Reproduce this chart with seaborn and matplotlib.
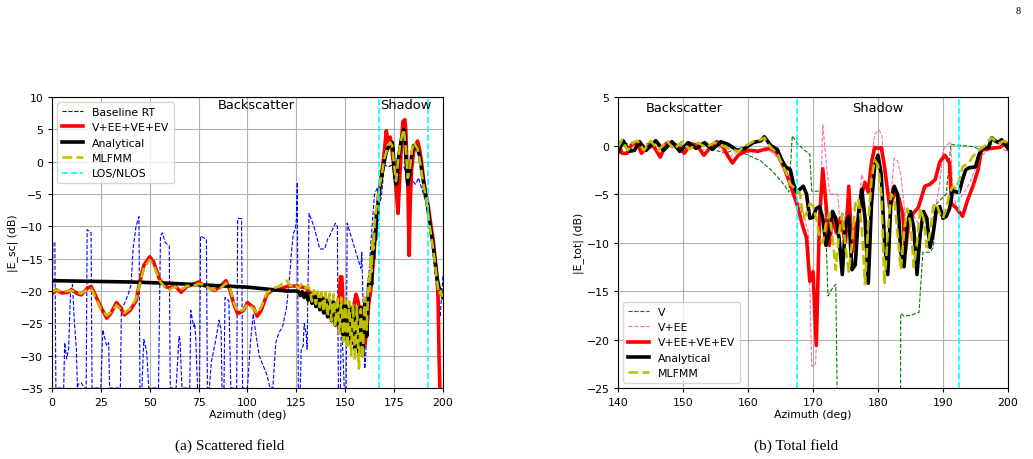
import seaborn as sns
import matplotlib.pyplot as plt
import pandas as pd

plt.switch_backend('agg')

# ---------------- (a) scattered field, (azimuth deg, dB) ----------------
baseline_rt = [(0, -35), (0.5, -12.5), (1.5, -12.5), (2, -35), (6, -35), (6.5, -28), (7.5, -30.5),
               (8.5, -29), (9.5, -20), (10.5, -19), (11.5, -25), (12.5, -29), (13, -35), (13.5, -34.4),
               (15, -34.2), (16.5, -35), (17.5, -35), (18, -10.5), (20, -11), (20.5, -35), (25, -35),
               (26, -26), (28, -28.5), (29, -28), (29.5, -35), (35, -35), (35.5, -23), (37, -22),
               (39, -20.5), (40.5, -19), (41.5, -13.5), (43, -10), (44.5, -8.5), (45, -35), (46, -35),
               (47, -27.5), (48.5, -29.5), (49.5, -35), (54.5, -35), (55.5, -11.5), (56.5, -11),
               (58, -12.5), (60, -13), (60.5, -35), (63.5, -35), (65, -27), (65.5, -27.5), (66.5, -35),
               (70.5, -35), (71, -23), (72.5, -25.5), (73, -25), (73.5, -27), (74.5, -35), (75.5, -35),
               (76, -11.5), (79, -12), (79.5, -35), (80.5, -35), (81.5, -31), (83.5, -28), (85.5, -24.5),
               (86.5, -26), (87, -35), (88, -35), (88.5, -21), (90.5, -21.5), (91.5, -35), (94.5, -35),
               (95, -8.8), (97, -8.8), (97.5, -35), (100, -35), (101.5, -28), (103, -23.5), (104, -26),
               (106, -30), (108, -31.5), (110, -33), (111.5, -35), (113, -35), (114.5, -28), (116, -26.5),
               (118, -25.5), (120, -22.5), (121.5, -18), (122.5, -14), (123.5, -11), (124.5, -10.5),
               (125, -9), (125.5, -3.2), (126, -35), (127, -35), (127.5, -29), (128.5, -28.5), (129, -25),
               (130, -26.5), (130.5, -29), (131.5, -8), (134, -10), (137, -13.5), (139.5, -13.5),
               (141, -12), (142, -11.5), (145, -9.5), (146, -10), (146.5, -35), (147.5, -35), (148, -25),
               (148.5, -27), (149.5, -35), (150.5, -35), (151, -9.5), (153.5, -12), (156, -14.5),
               (158, -16.5), (158.5, -14), (159, -20), (160, -32), (160.5, -30), (161.5, -21), (163, -13),
               (165, -5), (166.5, -4), (167.5, -6.5), (168.5, -5.5), (170, -0.5), (172, -0.8), (174, -0.5),
               (176, -1), (178, -1.2), (180, -0.8), (182, -2.2), (184, -2.8), (186, -3.5), (187.5, -2.5),
               (189, -4), (191, -6), (192.5, -8), (194, -11), (195.5, -16), (197, -20), (198.5, -24),
               (199.5, -20), (200, -17.5)]

rt_full_sc = [(0, -20.5), (2, -19.8), (5, -20.3), (8, -20.2), (10, -19.8), (13, -20.4), (15, -20.6),
              (18, -19.6), (20, -19.3), (22, -20.5), (25, -22.5), (28, -24.2), (30, -23.5), (33, -21.8),
              (35, -22.5), (37, -23.7), (40, -23), (43, -21.5), (45, -18.5), (47, -16), (50, -14.7),
              (52, -15.5), (55, -18.2), (58, -19.3), (60, -19.5), (63, -19.2), (66, -20.2), (69, -19.3),
              (72, -19.0), (75, -18.6), (78, -19.2), (80, -19.4), (83, -19.9), (86, -19.3), (89, -18.4),
              (91, -19.8), (93, -22), (95, -23.5), (98, -23), (100, -21.8), (103, -22.5), (105, -23.9),
              (107, -23), (110, -20.5), (113, -19.8), (116, -19.8), (120, -19.3), (123, -19.2),
              (126, -19.3), (130, -19.5), (132, -20.3), (135, -20.8), (138, -21.0), (141, -21.5),
              (143, -22.5), (145, -24.3), (146, -24.8), (147, -21), (147.5, -17.8), (148.3, -17.8),
              (149, -23), (150, -25), (152, -25.5), (154, -23), (155.5, -20.5), (156.5, -21.5),
              (158, -24), (159, -26), (160, -28.5), (161, -26), (162, -22), (163, -20), (164, -17),
              (165, -13), (166, -9), (167, -6), (168, -3), (169, -1), (170, 1.5), (171, 4.8), (172, 3),
              (173, 3.8), (174, 1.5), (175, -1), (176, -4), (177, -8), (178, -2), (179, 4), (179.5, 6.2),
              (180.5, 6.5), (181, 5), (181.5, 0), (182, -3), (182.7, -14.5), (183.3, -6), (184, -1),
              (185, 1.5), (186, 2.5), (187, 3.2), (188, 2), (189, 0), (190, -2.5), (191, -4.5), (192, -6),
              (193, -8), (194, -10.2), (195, -12), (196, -15), (197, -18), (197.5, -21), (198, -30),
              (198.5, -36), (200, -36)]

analytical_sc = [(0, -18.4), (20, -18.5), (40, -18.6), (60, -18.8), (80, -19.1), (100, -19.4),
                 (110, -19.7), (120, -20.0), (126, -20.0), (127, -20.7), (128, -20.1), (129, -21.0),
                 (130, -20.3), (131, -21.4), (132, -20.5), (133, -21.9), (134, -20.7), (135, -22.4),
                 (136, -20.9), (137, -22.9), (138, -21.1), (139, -23.4), (140, -21.3), (141, -24.0),
                 (142, -21.5), (143, -24.6), (144, -21.7), (145, -25.3), (146, -21.9), (147, -26.0),
                 (148, -22.0), (149, -26.8), (150, -22.2), (151, -27.5), (152, -22.4), (153, -28.2),
                 (154, -22.5), (155, -28.9), (156, -22.6), (157, -29.5), (158, -22.5), (159, -30.0),
                 (160, -22.0), (161, -27.0), (162, -19.0), (163, -17.5), (163.5, -19), (164, -14),
                 (164.5, -15), (165, -11), (165.5, -12), (166, -8), (166.5, -9), (167, -5.5), (168, -3.5),
                 (169, -1.5), (170, 0), (171, 1.5), (172, 2.2), (173, 2.8), (174, 3), (174.5, 2),
                 (175, -1), (176, -3.5), (176.5, -3), (177, 0), (178, 2), (179, 4), (180, 5), (180.5, 4),
                 (181, 1), (181.5, -2), (182, -3.5), (183, -2), (184, 1), (185, 2.5), (186, 2.5), (187, 2),
                 (188, 1), (189, -1), (190, -3), (191, -5), (192, -6.5), (193, -9), (194, -11), (195, -13),
                 (196, -15.5), (197, -18), (198, -19.5), (199, -20), (200, -21)]

mlfmm_sc = [(0, -20.2), (2, -19.8), (5, -20.1), (8, -20.0), (10, -19.9), (13, -20.3), (15, -20.4),
            (18, -19.8), (20, -19.6), (22, -20.8), (25, -22.8), (28, -23.8), (30, -23.3), (33, -22.2),
            (35, -22.8), (37, -23.4), (40, -22.7), (43, -21.2), (45, -18.8), (47, -16.4), (50, -15.2),
            (52, -16.0), (55, -18.4), (58, -19.5), (60, -19.8), (63, -19.3), (66, -19.8), (69, -19.2),
            (72, -19.2), (75, -18.9), (78, -19.0), (80, -19.5), (83, -19.8), (86, -19.6), (89, -18.8),
            (91, -19.5), (93, -21.8), (95, -23.2), (98, -22.9), (100, -22.0), (103, -22.7), (105, -23.5),
            (107, -22.5), (110, -20.3), (113, -19.6), (116, -19.3), (118, -18.8), (120, -18.4),
            (122, -19.2), (124, -18.9), (126, -19.6), (128, -18.8), (130, -19.6), (131, -19.2),
            (132, -20.0), (133, -21.6), (134, -19.9), (135, -22.0), (136, -20.1), (137, -22.5),
            (138, -20.2), (139, -23.2), (140, -20.2), (141, -23.9), (142, -20.4), (143, -24.6),
            (144, -20.5), (145, -25.5), (146, -20.8), (147, -26.6), (148, -21.0), (149, -27.8),
            (150, -21.3), (151, -28.9), (152, -21.6), (153, -29.9), (154, -22.0), (155, -30.8),
            (156, -22.4), (157, -32.0), (158, -22.8), (159, -30.5), (160, -21.0), (161, -26.0),
            (162, -18.0), (162.5, -20), (163, -15), (163.5, -17), (164, -12), (164.5, -13.5),
            (165, -9.5), (166, -7), (167, -5), (168, -3), (169, -1.5), (170, 0.5), (171, 1.5),
            (172, 2.5), (173, 3), (174, 2.5), (175, -0.5), (176, -3), (177, 0), (178, 2.5), (179, 4),
            (180, 5), (181, 2), (182, -2.5), (183, -1.5), (184, 1.5), (185, 3), (186, 2.5), (187, 2),
            (188, 0.5), (189, -1.5), (190, -3.5), (191, -5), (192, -7), (193, -9.5), (194, -11.5),
            (195, -13.5), (196, -16), (197, -18.5), (198, -20.5), (199, -20), (200, -21.5)]

# ---------------- (b) total field ----------------
v_tot = [(140, 0), (141.5, 0.2), (143, -0.2), (145, 0.3), (147, -0.3), (149, 0.2), (151, -0.2), (153, 0.3),
         (155, -0.5), (156.5, -0.8), (158, -0.4), (160, -1), (162, -1.6), (163.5, -2.5), (164.5, -3.2),
         (165.5, -4), (166.3, -4.8), (166.8, 1), (167.5, 0.3), (168.5, -0.4), (169.5, -0.9),
         (169.8, -4.7), (171, -4.7), (171.8, -5), (172.3, -15.5), (173, -14.7), (173.5, -14.3),
         (174, -40), (183.4, -40), (183.5, -17.3), (184, -17.6), (185, -17.5), (186.3, -17.2),
         (186.9, -11), (188, -11), (188.5, -10.5), (189, -6), (190.5, -5), (191.2, 0.1), (194.5, -0.1),
         (196.5, -0.6), (197.8, 0.4), (199, 0.3), (200, -0.3)]

v_ee_tot = [(140, 0.2), (141.5, -0.3), (143, 0.2), (145, -0.3), (147, 0.1), (149, -0.2), (151, 0.1),
            (153, -0.5), (155, 0.1), (157, -1.2), (158.5, -0.6), (160, -0.5), (162, -0.5), (163.5, -0.6),
            (164.5, -1.2), (165.5, -2.5), (166.5, -3.5), (167.5, -5.5), (168.5, -7), (169.3, -9),
            (169.8, -22.8), (170.4, -22.5), (170.8, -14), (171.5, 2.2), (172.2, -3), (172.6, -5),
            (173.8, -5), (174.3, -9), (175, -7), (176, -6.5), (177, -6), (177.5, -3), (178.3, -4.5),
            (179, -1.5), (179.5, 1.2), (180.2, 1.6), (180.6, 1), (181.3, -4.5), (182, -5), (182.5, -1.3),
            (183, -1.6), (183.5, -3), (184, -6), (184.6, -9.5), (185.2, -7), (186.2, -8), (187.5, -7.5),
            (188.5, -7.5), (189.5, -4), (190, -0.5), (190.5, 0), (191.2, 0.4), (191.5, -5.2), (192, -6),
            (192.8, -5.3), (194, -4), (195, -2.3), (196, -1), (197, -0.5), (198.5, -0.2), (199.5, -0.5),
            (200, -0.5)]

rt_full_tot = [(140, 0.3), (140.6, -0.8), (141.4, -0.8), (142.2, 0.2), (143, 0.2), (143.6, -0.8),
               (144.3, -0.3), (145.2, 0.2), (146.5, -1.2), (147.4, 0.2), (148.3, 0.3), (149.4, -0.2),
               (150.2, -0.8), (151.2, 0.2), (152.2, 0), (153.2, -1), (154.2, -0.2), (155.2, 0.4),
               (156.2, -0.2), (157, -1.2), (157.6, -1.8), (158.5, -1), (159.5, -0.6), (160.5, -0.5),
               (161.5, -0.6), (162.5, -0.4), (163.5, -0.3), (164.5, -0.8), (165.5, -2.2), (166.5, -4),
               (167.5, -6), (168.5, -8.5), (169, -9.5), (169.5, -14), (170, -13), (170.5, -20.6),
               (171, -7.5), (171.5, -2.4), (172, -6), (172.5, -10.3), (173, -7.5), (173.6, -9),
               (174.2, -7.5), (175, -10), (175.5, -4.2), (176, -11), (176.5, -8.5), (177, -7.5),
               (177.5, -5), (178, -3.8), (178.5, -4.8), (179, -1.7), (179.5, -0.2), (180, -0.3),
               (180.5, -0.2), (181, -2.2), (181.8, -6.4), (182.6, -4.8), (183.2, -5.4), (183.8, -7),
               (184.2, -11), (184.7, -8), (185.4, -7), (186.2, -6.4), (187.2, -4.2), (188, -4),
               (188.8, -3.5), (189.5, -1.7), (190.3, -1), (191, -1.8), (191.3, -6), (192, -6.4),
               (193, -7.3), (193.8, -5.6), (194.6, -4.2), (195.4, -2.5), (195.9, -0.5), (197.2, -0.3),
               (198.7, -0.2), (199.7, 0.3), (200, 0)]

analytical_tot = [(140, -0.7), (140.8, 0.5), (141.7, -0.6), (142.5, -0.5), (143.3, 0.4), (144.3, -0.5),
                  (145.8, 0.5), (147, -0.5), (148.3, 0.4), (149.5, -0.6), (150.8, 0.3), (152, -0.3),
                  (153.3, 0.3), (154.5, -0.4), (155.8, 0.4), (157, 0.1), (158.3, -0.5), (159.5, -0.3),
                  (160.8, 0.3), (162, 0.5), (162.5, 0.9), (163.5, 0), (164.5, -0.4), (165.2, -1.5),
                  (165.8, -2.2), (166.5, -2.5), (167, -4), (167.5, -4.8), (168, -4.5), (168.5, -4.2),
                  (169, -5), (169.5, -7.5), (170, -7.4), (170.5, -6.5), (171, -6.3), (171.5, -7.5),
                  (172, -10.3), (172.5, -9), (173, -6.8), (173.5, -7.5), (174, -9.5), (174.5, -13.3),
                  (175, -8), (175.5, -7.3), (176, -12.8), (176.5, -12.3), (177, -7), (177.5, -4.5),
                  (178, -7.5), (178.5, -14.2), (179, -6), (179.5, -2), (180, -1), (180.5, -3), (181, -10),
                  (181.5, -13.3), (182, -5.5), (182.5, -4.2), (183, -5), (183.5, -11), (184, -12.5),
                  (184.5, -8), (185, -6.8), (185.5, -8.5), (186, -13.3), (186.5, -9), (187, -6.8),
                  (187.5, -7.5), (188, -10.5), (188.5, -9), (189, -6.5), (189.5, -6.3), (190, -7.5),
                  (190.5, -7.3), (191, -6.5), (191.5, -4.5), (192, -4.8), (192.5, -4.8), (193, -3.5),
                  (193.5, -2.5), (194, -2.3), (195, -2.2), (195.5, -1), (196, -0.3), (197, -0.2),
                  (197.5, 0.8), (198, 0.5), (198.5, 0.3), (199, 0.6), (200, -0.3)]

mlfmm_tot = [(140, -0.2), (140.6, 0.6), (141.5, -0.5), (142.3, 0.3), (143, 0.5), (144, -0.5), (145, 0.5),
             (146.2, -0.5), (147.5, 0.5), (148.6, -0.4), (149.8, 0.4), (151, -0.4), (152.3, 0.3),
             (153.5, -0.2), (154.8, 0.3), (156, 0), (157, -0.3), (158.5, -0.6), (159.7, 0), (161, 0.5),
             (162, 0.6), (162.5, 0.8), (163.5, -0.2), (164.5, -0.8), (165.3, -2), (166, -3), (166.5, -4),
             (167, -4.3), (167.5, -4.5), (168, -5), (168.5, -7.5), (169, -7), (169.5, -6), (170, -6.2),
             (170.5, -7.5), (171, -9.5), (171.5, -10), (172, -8), (172.5, -7), (173, -9.5), (173.5, -12.8),
             (174, -9), (174.5, -7), (175, -10.5), (175.5, -13), (176, -10), (176.5, -6), (177, -5.5),
             (177.5, -8.5), (178, -14.3), (178.5, -8), (179, -3.5), (179.5, -1.5), (180, -2), (180.5, -5),
             (181, -14.3), (181.5, -9), (182, -5), (182.5, -5.5), (183, -9), (183.5, -12.8), (184, -9),
             (184.5, -6.5), (185, -8), (185.5, -12.5), (186, -10), (186.5, -6.5), (187, -7.5),
             (187.5, -10.5), (188, -9), (188.5, -6.2), (189, -6), (189.5, -7), (190, -7.5), (190.5, -6.5),
             (191, -5), (191.5, -4.2), (192, -4.5), (192.5, -3.5), (193, -2.2), (194, -1.8),
             (194.5, -1.2), (195.5, -0.5), (196.5, 0), (197, 0.5), (197.5, 0.8), (198.5, 0.2),
             (199.5, 0.5), (200, -0.1)]

los_nlos = [167.5, 192.5]

fs = 7.8
plt.rcParams.update({'font.size': fs, 'axes.linewidth': 0.8,
                     'xtick.major.size': 2.7, 'ytick.major.size': 2.7,
                     'grid.color': '#b0b0b0', 'grid.linewidth': 0.8})

fig = plt.figure(figsize=(10.33, 4.6), dpi=100)
ax1 = fig.add_axes([0.0503, 0.1543, 0.3785, 0.6326])
ax2 = fig.add_axes([0.5983, 0.1543, 0.3775, 0.6326])


def draw(ax, pairs, label, **kw):
    df = pd.DataFrame(pairs, columns=['az', 'db'])
    sns.lineplot(data=df, x='az', y='db', ax=ax, label=label,
                 estimator=None, sort=False, **kw)


# (a)
draw(ax1, baseline_rt, 'Baseline RT', color='blue', lw=0.8, linestyle='--')
draw(ax1, rt_full_sc, 'V+EE+VE+EV', color='red', lw=2.6)
draw(ax1, analytical_sc, 'Analytical', color='black', lw=2.6)
draw(ax1, mlfmm_sc, 'MLFMM', color='y', lw=1.9, linestyle='--')
for i, xv in enumerate(los_nlos):
    ax1.axvline(xv, color='cyan', lw=1.2, linestyle='--',
                label='LOS/NLOS' if i == 0 else None)
ax1.set_xlim(0, 200)
ax1.set_ylim(-35, 10)
ax1.set_xticks(range(0, 201, 25))
ax1.set_yticks(range(-35, 11, 5))
ax1.grid(True)
ax1.set_xlabel('Azimuth (deg)', fontsize=fs, labelpad=2)
ax1.set_ylabel('|E_sc| (dB)', fontsize=fs, labelpad=2)
ax1.text(85, 8.25, 'Backscatter', fontsize=9.4)
ax1.text(168, 8.25, 'Shadow', fontsize=9.4)
ax1.legend(loc='upper left', fontsize=fs)

# (b)
draw(ax2, v_tot, 'V', color='green', lw=0.8, linestyle='--')
draw(ax2, v_ee_tot, 'V+EE', color='hotpink', lw=0.8, linestyle='--')
draw(ax2, rt_full_tot, 'V+EE+VE+EV', color='red', lw=2.6)
draw(ax2, analytical_tot, 'Analytical', color='black', lw=2.6)
draw(ax2, mlfmm_tot, 'MLFMM', color='y', lw=1.9, linestyle='--')
for xv in los_nlos:
    ax2.axvline(xv, color='cyan', lw=1.2, linestyle='--')
ax2.set_xlim(140, 200)
ax2.set_ylim(-25, 5)
ax2.set_xticks(range(140, 201, 10))
ax2.set_yticks(range(-25, 6, 5))
ax2.grid(True)
ax2.set_xlabel('Azimuth (deg)', fontsize=fs, labelpad=2)
ax2.set_ylabel('|E_tot| (dB)', fontsize=fs, labelpad=2)
ax2.text(144.3, 3.6, 'Backscatter', fontsize=9.4)
ax2.text(176, 3.6, 'Shadow', fontsize=9.4)
ax2.legend(loc='lower left', fontsize=fs)

serif = ['Liberation Serif', 'DejaVu Serif']
fig.text(0.222, 0.030, '(a) Scattered field', family=serif, fontsize=11, ha='center', va='center')
fig.text(0.7705, 0.030, '(b) Total field', family=serif, fontsize=11, ha='center', va='center')
fig.text(0.986, 0.974, '8', family=serif, fontsize=7.5, ha='center', va='center')

fig.savefig('out.png', dpi=100)
